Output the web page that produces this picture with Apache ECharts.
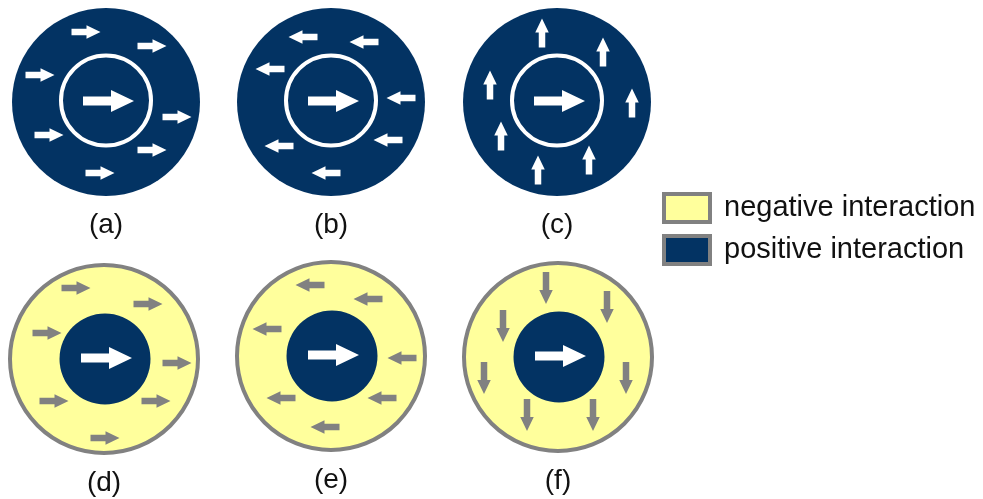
<!DOCTYPE html>
<html>
<head>
<meta charset="utf-8">
<script src="https://cdn.jsdelivr.net/npm/echarts@6/dist/echarts.min.js"></script>
<style>
  html, body { margin: 0; padding: 0; background: #ffffff; }
  #chart { width: 983px; height: 499px; }
</style>
</head>
<body>
<div id="chart"></div>
<script>
// Panel captions and the kind of surrounding medium in each panel
const panelLabels = ['(a)', '(b)', '(c)', '(d)', '(e)', '(f)'];
const panelKinds = ['positive', 'positive', 'positive', 'negative', 'negative', 'negative'];
// Direction of the small arrows around the central particle
const panelDirections = ['right', 'left', 'up', 'right', 'left', 'down'];
const legendNames = ['negative interaction', 'positive interaction'];

// Small arrow centres, relative to the panel centre (diagram units)
const arrowsA = [[-20, -70], [46, -56], [-66, -27], [71, 15], [-57, 33], [46, 48], [-6, 71]];
const arrowsB = [[-28, -65], [33, -60], [-61, -33], [70, -4], [-52, 44], [57, 38], [-5, 71]];
const arrowsC = [[-15, -69], [46, -50], [-67, -17], [75, 1], [-56, 34], [32, 58], [-19, 68]];
const arrowsD = [[-28, -71], [44, -55], [-57, -26], [73, 4], [-50, 42], [52, 42], [1, 79]];
const arrowsE = [[-21, -71], [37, -57], [-64, -27], [71, 2], [-50, 42], [51, 42], [-6, 71]];
const arrowsF = [[-12, -69], [49, -50], [-55, -31], [-74, 21], [68, 21], [-31, 58], [35, 58]];
const panelArrows = [arrowsA, arrowsB, arrowsC, arrowsD, arrowsE, arrowsF];

const BLUE = '#033363';
const YELLOW = '#ffff9c';
const GRAY = '#818181';
const WHITE = '#ffffff';
const FONT = 'Liberation Sans, Arial, sans-serif';

// Panel frames (grid centres on the page)
const frames = [
  [106, 102], [331, 102], [557, 102],
  [104, 359], [331, 356], [558, 357]
];

const DIRS = { right: [1, 0], left: [-1, 0], up: [0, -1], down: [0, 1] };

function arrowPoints(cx, cy, dir, L, headLen, headW, shaftW) {
  const u = DIRS[dir];
  const local = [
    [-L / 2, -shaftW / 2], [L / 2 - headLen, -shaftW / 2], [L / 2 - headLen, -headW / 2],
    [L / 2, 0], [L / 2 - headLen, headW / 2], [L / 2 - headLen, shaftW / 2], [-L / 2, shaftW / 2]
  ];
  return local.map(([a, b]) => [cx + a * u[0] - b * u[1], cy + a * u[1] + b * u[0]]);
}

const grids = [], xAxes = [], yAxes = [], series = [];

frames.forEach(([fx, fy], i) => {
  grids.push({ left: fx - 100, top: fy - 100, width: 200, height: 240, containLabel: false });
  xAxes.push({ type: 'value', gridIndex: i, min: -100, max: 100, show: false });
  yAxes.push({ type: 'value', gridIndex: i, min: -100, max: 140, inverse: true, show: false });

  const kind = panelKinds[i];
  const positive = kind === 'positive';

  // Discs, central particle and caption
  series.push({
    type: 'custom',
    name: positive ? 'positive interaction' : 'negative interaction',
    xAxisIndex: i, yAxisIndex: i,
    itemStyle: { color: positive ? BLUE : YELLOW },
    silent: true,
    data: [[0, 0]],
    renderItem: function (params, api) {
      const c = api.coord([0, 0]);
      const s = api.size([1, 1])[0];
      const children = [];
      if (positive) {
        children.push({ type: 'circle', shape: { cx: c[0], cy: c[1], r: 94 * s }, style: { fill: BLUE } });
        const ic = api.coord([0, -1.5]);
        children.push({ type: 'circle', shape: { cx: ic[0], cy: ic[1], r: 45 * s },
          style: { fill: null, stroke: WHITE, lineWidth: 4 } });
      } else {
        children.push({ type: 'circle', shape: { cx: c[0], cy: c[1], r: 94 * s },
          style: { fill: YELLOW, stroke: GRAY, lineWidth: 4 } });
        const ic = api.coord([1, 0]);
        children.push({ type: 'circle', shape: { cx: ic[0], cy: ic[1], r: 45.5 * s }, style: { fill: BLUE } });
      }
      const ac = api.coord([2.5, -1]);
      children.push({ type: 'polygon',
        shape: { points: arrowPoints(ac[0], ac[1], 'right', 51 * s, 23 * s, 22 * s, 9 * s) },
        style: { fill: WHITE } });
      const lc = api.coord([0, positive ? 123 : 124]);
      children.push({ type: 'text', style: {
        text: panelLabels[i], x: lc[0], y: lc[1], align: 'center', verticalAlign: 'middle',
        fill: '#111111', font: '28px ' + FONT } });
      return { type: 'group', children: children };
    }
  });

  // Small arrows of the surrounding medium
  const dir = panelDirections[i];
  series.push({
    type: 'custom',
    xAxisIndex: i, yAxisIndex: i,
    silent: true,
    data: panelArrows[i],
    renderItem: function (params, api) {
      const p = api.coord([api.value(0), api.value(1)]);
      const s = api.size([1, 1])[0];
      const L = dir === 'down' ? 32 : 29;
      return { type: 'polygon',
        shape: { points: arrowPoints(p[0], p[1], dir, L * s, 14 * s, 13.5 * s, 6.5 * s) },
        style: { fill: positive ? WHITE : GRAY } };
    }
  });
});

const chart = echarts.init(document.getElementById('chart'), null, { renderer: 'canvas' });
chart.setOption({
  animation: false,
  backgroundColor: '#ffffff',
  grid: grids,
  xAxis: xAxes,
  yAxis: yAxes,
  legend: {
    data: legendNames,
    orient: 'vertical',
    left: 662, top: 192,
    padding: 0,
    itemWidth: 46, itemHeight: 28, itemGap: 10,
    icon: 'rect',
    selectedMode: false,
    itemStyle: { borderColor: GRAY, borderWidth: 4 },
    textStyle: { fontSize: 29, fontFamily: FONT, color: '#111111', padding: [0, 0, 0, 9], lineHeight: 28 }
  },
  series: series
});
</script>
</body>
</html>
